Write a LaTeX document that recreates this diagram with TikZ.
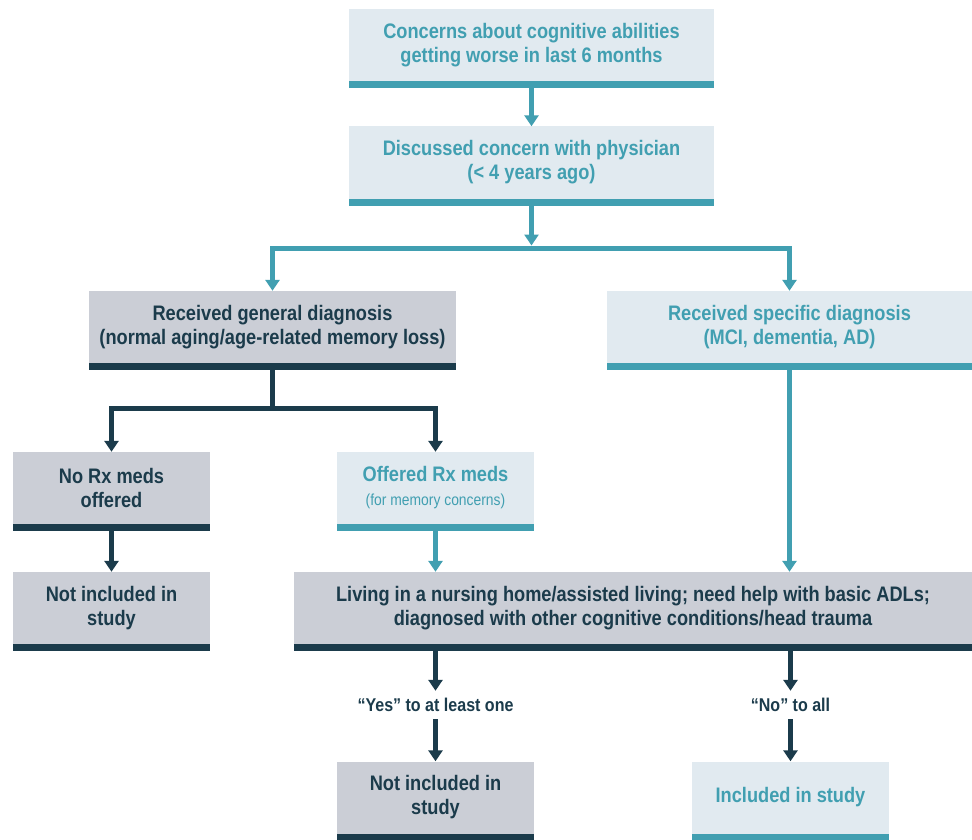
\documentclass[tikz,border=0pt]{standalone}
\usepackage{fontspec}
\setmainfont{Liberation Sans}[FakeStretch=0.867]
\usepackage{xcolor}
\usetikzlibrary{arrows.meta}
\definecolor{tealc}{HTML}{419FB1}
\definecolor{navy}{HTML}{1B3B4B}
\definecolor{boxblue}{HTML}{E1EAF0}
\definecolor{boxgray}{HTML}{CBCED6}
\tikzset{
	box/.style={minimum height=72pt, inner sep=0pt, align=center,
		font=\fontsize{21}{24}\selectfont\bfseries},
	bluebox/.style={box, fill=boxblue, text=tealc},
	graybox/.style={box, fill=boxgray, text=navy},
	link/.style={line width=5pt, -{Triangle[width=14pt,length=11pt]}},
	answer/.style={inner sep=0pt, minimum height=28pt, text=navy,
		font=\fontsize{18.5}{20}\selectfont\bfseries}
}

\begin{document}
\begin{tikzpicture}[x=1pt,y=-1pt]
		\useasboundingbox (0,0) rectangle (972,840);
		\node[bluebox, minimum width=365pt] (top) at (531.5,45) {Concerns about cognitive abilities\\getting worse in last 6 months};
		\node[bluebox, minimum width=365pt] (disc) at (531.5,162.5) {Discussed concern with physician\\(< 4 years ago)};
		\node[graybox, minimum width=367pt] (gen) at (272.5,327) {Received general diagnosis\\(normal aging/age-related memory loss)};
		\node[bluebox, minimum width=365pt] (spec) at (789.5,327) {Received specific diagnosis\\(MCI, dementia, AD)};
		\node[graybox, minimum width=197pt] (nomeds) at (111.5,488) {No Rx meds\\offered};
		\node[bluebox, minimum width=197pt] (offered) at (435.5,488) {Offered Rx meds\\{\fontsize{16}{20}\selectfont\mdseries (for memory concerns)}};
		\node[graybox, minimum width=197pt] (notin1) at (111.5,608) {Not included in\\study};
		\node[graybox, minimum width=678pt] (living) at (633,608) {Living in a nursing home/assisted living; need help with basic ADLs;\\diagnosed with other cognitive conditions/head trauma};
		\node[graybox, minimum width=197pt] (notin2) at (435.5,797.5) {Not included in\\study};
		\node[bluebox, minimum width=197pt] (incl) at (790.5,797.5) {Included in study};
		\node[answer] (yes) at (435.5,705) {``Yes'' to at least one};
		\node[answer] (no) at (790.5,705) {``No'' to all};
		%
		\foreach \n/\c in {top/tealc, disc/tealc, gen/navy, spec/tealc, nomeds/navy, offered/tealc,
			notin1/navy, living/navy, notin2/navy, incl/tealc}
			\fill[\c] (\n.south west) rectangle ([yshift=-7pt]\n.south east);
		%
		\coordinate (fork1) at (531.5,248);
		\coordinate (fork2) at (272.5,408);
		%
		\path[link, color=tealc]
		([yshift=-7pt]top.south) edge (disc.north)
		([yshift=-7pt]disc.south) edge ([yshift=2.5pt]fork1)
		([yshift=-7pt]offered.south) edge (offered.south |- living.north)
		([yshift=-7pt]spec.south) edge (spec.south |- living.north);
		\draw[link, tealc] (fork1) -| (gen.north);
		\draw[link, tealc] (fork1) -| (spec.north);
		%
		\draw[line width=5pt, navy] ([yshift=-7pt]gen.south) -- (fork2);
		\draw[link, navy] (fork2) -| (nomeds.north);
		\draw[link, navy] (fork2) -| (offered.north);
		\path[link, color=navy]
		([yshift=-7pt]nomeds.south) edge (notin1.north)
		([yshift=-7pt]yes |- living.south) edge (yes.north)
		([yshift=-7pt]no |- living.south) edge (no.north)
		(yes.south) edge (notin2.north)
		(no.south) edge (no.south |- incl.north);
		\end{tikzpicture}
\end{document}
